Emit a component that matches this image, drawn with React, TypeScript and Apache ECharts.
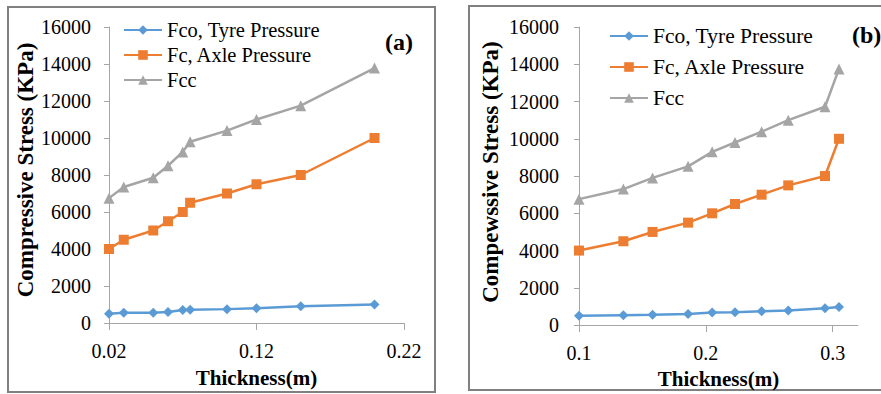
import React, { useEffect, useRef } from "react";
import * as echarts from "echarts";

const seriesNames = ["Fco, Tyre Pressure", "Fc, Axle Pressure", "Fcc"];
const colors = ["#5B9BD5", "#ED7D31", "#A5A5A5"];
const symbols = ["diamond", "rect", "triangle"];

const thicknessA = [0.02, 0.03, 0.05, 0.06, 0.07, 0.075, 0.1, 0.12, 0.15, 0.2];
const fcoA = [500, 550, 560, 600, 700, 710, 750, 800, 900, 1000];
const fcA = [4000, 4500, 5000, 5500, 6000, 6500, 7000, 7500, 8000, 10000];
const fccA = [6750, 7350, 7850, 8500, 9250, 9800, 10400, 11000, 11750, 13780];

const thicknessB = [0.1, 0.135, 0.158, 0.186, 0.205, 0.223, 0.244, 0.265, 0.294, 0.305];
const fcoB = [500, 530, 550, 600, 680, 690, 740, 780, 900, 970];
const fcB = [4000, 4500, 5000, 5500, 6000, 6500, 7000, 7500, 8000, 10000];
const fccB = [6760, 7300, 7900, 8520, 9300, 9800, 10380, 11000, 11720, 13750];

const ticksB = [0.1, 0.2, 0.3];

const FONT = "'Liberation Serif', 'Times New Roman', serif";
const AXIS_COLOR = "#a6a6a6";

export default function App() {
  const ref = useRef<HTMLDivElement>(null);
  useEffect(() => {
    if (!ref.current) return;
    const chart = echarts.init(ref.current, null, { renderer: "svg" });

    const pair = (xs: number[], ys: number[]) => xs.map((x, i) => [x, ys[i]]);
    const mkSeries = (idx: number, gridIdx: number, xs: number[], ys: number[]) => ({
      type: "line",
      name: seriesNames[idx],
      xAxisIndex: gridIdx,
      yAxisIndex: gridIdx,
      data: pair(xs, ys),
      symbol: symbols[idx],
      symbolSize: idx === 2 ? 11 : 10,
      lineStyle: { color: colors[idx], width: 2.5 },
      itemStyle: { color: colors[idx] },
      color: colors[idx],
      z: 3 + idx,
    });

    const yAxisBase = (gridIndex: number, margin: number) => ({
      type: "value",
      gridIndex,
      min: 0,
      max: 16000,
      interval: 2000,
      splitLine: { show: false },
      axisLine: { show: true, lineStyle: { color: AXIS_COLOR, width: 1 } },
      axisTick: { show: true, inside: false, length: 5, lineStyle: { color: AXIS_COLOR } },
      axisLabel: {
        color: "#000",
        fontFamily: FONT,
        fontSize: 20,
        margin,
        formatter: (v: number) => String(Math.round(v)),
      },
    });

    const legendBase = (left: number, top: number, gap: number, fs: number) => ({
      left,
      top,
      orient: "vertical",
      itemWidth: 38,
      itemHeight: 12,
      itemGap: gap,
      data: seriesNames,
      textStyle: { fontFamily: FONT, fontSize: fs, color: "#000", lineHeight: 22 },
      selectedMode: false,
    });

    const option: any = {
      animation: false,
      backgroundColor: "#fff",
      grid: [
        { left: 109, top: 27, width: 295, height: 296 },
        { left: 579, top: 27, width: 279, height: 302 },
      ],
      xAxis: [
        {
          type: "value",
          gridIndex: 0,
          min: 0.02,
          max: 0.22,
          interval: 0.1,
          splitLine: { show: false },
          axisLine: { show: true, onZero: false, lineStyle: { color: AXIS_COLOR, width: 1 } },
          axisTick: { show: true, inside: false, length: 7, lineStyle: { color: AXIS_COLOR } },
          axisLabel: {
            color: "#000",
            fontFamily: FONT,
            fontSize: 20,
            margin: 18,
            formatter: (v: number) => v.toFixed(2),
          },
          name: "Thickness(m)",
          nameLocation: "middle",
          nameGap: 44,
          nameTextStyle: { fontFamily: FONT, fontSize: 21, fontWeight: "bold", color: "#000" },
        },
        {
          type: "value",
          gridIndex: 1,
          min: 0.1,
          max: 0.32,
          interval: 0.1,
          splitLine: { show: false },
          axisLine: { show: true, onZero: false, lineStyle: { color: AXIS_COLOR, width: 1 } },
          axisTick: {
            show: true,
            inside: false,
            length: 7,
            lineStyle: { color: AXIS_COLOR },
            customValues: ticksB,
          },
          axisLabel: {
            color: "#000",
            fontFamily: FONT,
            fontSize: 20,
            margin: 18,
            customValues: ticksB,
            formatter: (v: number) => v.toFixed(1),
          },
          name: "Thickness(m)",
          nameLocation: "middle",
          nameGap: 38,
          nameTextStyle: { fontFamily: FONT, fontSize: 21, fontWeight: "bold", color: "#000" },
        },
      ],
      yAxis: [yAxisBase(0, 18), yAxisBase(1, 20)],
      legend: [legendBase(118, 14, 3, 20.5), legendBase(604, 20, 9, 21.5)],
      series: [
        mkSeries(0, 0, thicknessA, fcoA),
        mkSeries(1, 0, thicknessA, fcA),
        mkSeries(2, 0, thicknessA, fccA),
        mkSeries(0, 1, thicknessB, fcoB),
        mkSeries(1, 1, thicknessB, fcB),
        mkSeries(2, 1, thicknessB, fccB),
      ],
      graphic: [
        {
          type: "rect",
          shape: { x: 8, y: 7, width: 427, height: 385 },
          style: { fill: "none", stroke: "#808080", lineWidth: 2 },
          silent: true,
        },
        {
          type: "rect",
          shape: { x: 469, y: 6, width: 420, height: 384 },
          style: { fill: "none", stroke: "#808080", lineWidth: 2 },
          silent: true,
        },
        {
          type: "text",
          x: 25,
          y: 170,
          rotation: Math.PI / 2,
          style: {
            text: "Compressive Stress (KPa)",
            fontFamily: FONT,
            fontSize: 23,
            fontWeight: "bold",
            fill: "#000",
            align: "center",
            verticalAlign: "middle",
          },
        },
        {
          type: "text",
          x: 490,
          y: 172,
          rotation: Math.PI / 2,
          style: {
            text: "Compewssive Stress (KPa)",
            fontFamily: FONT,
            fontSize: 23,
            fontWeight: "bold",
            fill: "#000",
            align: "center",
            verticalAlign: "middle",
          },
        },
        {
          type: "text",
          x: 385,
          y: 42,
          style: {
            text: "(a)",
            fontFamily: FONT,
            fontSize: 24,
            fontWeight: "bold",
            fill: "#000",
            align: "left",
            verticalAlign: "middle",
          },
        },
        {
          type: "text",
          x: 852,
          y: 35,
          style: {
            text: "(b)",
            fontFamily: FONT,
            fontSize: 24,
            fontWeight: "bold",
            fill: "#000",
            align: "left",
            verticalAlign: "middle",
          },
        },
      ],
    };

    chart.setOption(option);
    return () => chart.dispose();
  }, []);

  return (
    <div
      ref={ref}
      style={{ position: "fixed", left: 0, top: 0, width: 881, height: 394 }}
    />
  );
}
